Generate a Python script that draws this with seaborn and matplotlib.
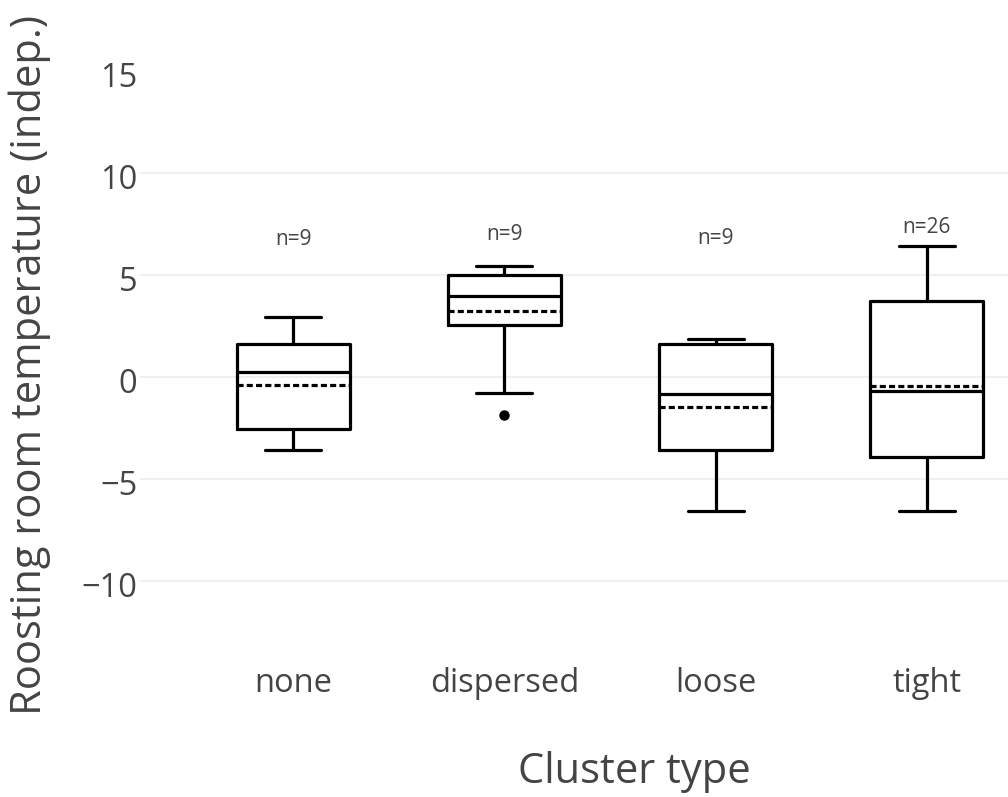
import numpy as np
import pandas as pd
import matplotlib
matplotlib.use("Agg")
import matplotlib.pyplot as plt
import matplotlib.transforms as mtransforms
import seaborn as sns

# -----------------------------------------
# Data
# -----------------------------------------
clusters = ["none", "dispersed", "loose", "tight"]
whisker_low = [-3.6, -0.8, -6.6, -6.6]
q1 = [-2.55, 2.55, -3.6, -3.95]
medians = [0.25, 3.97, -0.83, -0.7]
q3 = [1.62, 5.0, 1.62, 3.73]
whisker_high = [2.9, 5.44, 1.82, 6.38]
means = [-0.39, 3.2, -1.47, -0.45]
outliers = [[], [-1.86], [], []]
n_obs = [9, 9, 9, 26]
n_label_y = [6.7, 6.95, 6.75, 7.3]

# -----------------------------------------
# Style
# -----------------------------------------
sns.set_theme(style="white")
plt.rcParams["font.family"] = ["Open Sans", "DejaVu Sans"]
text_col = "#444444"

fig = plt.figure(figsize=(10.08, 7.97), dpi=100)
ax = fig.add_axes([0.139, 0.1845, 0.861, 0.7525])

stats = []
for i, c in enumerate(clusters):
    stats.append({
        "label": c,
        "whislo": whisker_low[i],
        "q1": q1[i],
        "med": medians[i],
        "q3": q3[i],
        "whishi": whisker_high[i],
        "mean": means[i],
        "fliers": np.array(outliers[i]),
    })

lw = 2.3
ax.bxp(
    stats,
    positions=range(len(clusters)),
    widths=0.535,
    showmeans=True,
    meanline=True,
    showfliers=True,
    boxprops=dict(color="black", linewidth=lw),
    whiskerprops=dict(color="black", linewidth=lw),
    capprops=dict(color="black", linewidth=lw),
    medianprops=dict(color="black", linewidth=lw),
    meanprops=dict(color="black", linewidth=lw, linestyle=(0, (1.9, 1.0))),
    flierprops=dict(marker="o", markerfacecolor="black", markeredgecolor="black",
                    markersize=6.5),
    capwidths=0.265,
    manage_ticks=False,
)

# sample size labels
labels_df = pd.DataFrame({"cluster": clusters, "n": n_obs, "y": n_label_y})
for i, row in labels_df.iterrows():
    ax.text(i, row["y"], f"n={row['n']}", ha="center", va="center",
            fontsize=15, color=text_col)

ax.set_xlim(-0.724, 3.384)
ax.set_ylim(-13.4, 16.0)
ax.set_xticks(range(len(clusters)))
ax.set_xticklabels(clusters)
ax.set_yticks([-10, -5, 0, 5, 10, 15])
ax.tick_params(axis="both", length=0, labelsize=23.5, colors=text_col)
ax.tick_params(axis="y", pad=2)
ax.tick_params(axis="x", pad=12)

# y tick labels sit a few pixels below their gridline in the reference
shift = mtransforms.ScaledTranslation(0, -4 / 100, fig.dpi_scale_trans)
for lab in ax.get_yticklabels():
    lab.set_transform(lab.get_transform() + shift)

ax.grid(axis="y", color="#eeeeee", linewidth=1.3)
ax.grid(axis="x", visible=False)
ax.yaxis.get_gridlines()[-1].set_visible(False)
ax.set_axisbelow(True)
sns.despine(ax=ax, left=True, bottom=True)

ax.set_xlabel("Cluster type", fontsize=30, color=text_col)
ax.set_ylabel("Roosting room temperature (indep.)", fontsize=30, color=text_col)
# label centres as placed in the reference (figure pixels -> axes coords)
ax.xaxis.set_label_coords((634 - 140) / 868, (797 - 772 - 147) / 600)
ax.yaxis.set_label_coords((30 - 140) / 868, (797 - 365 - 147) / 600)
ax.xaxis.label.set_va("center")
ax.yaxis.label.set_va("center")

fig.savefig("out.png", dpi=100)
